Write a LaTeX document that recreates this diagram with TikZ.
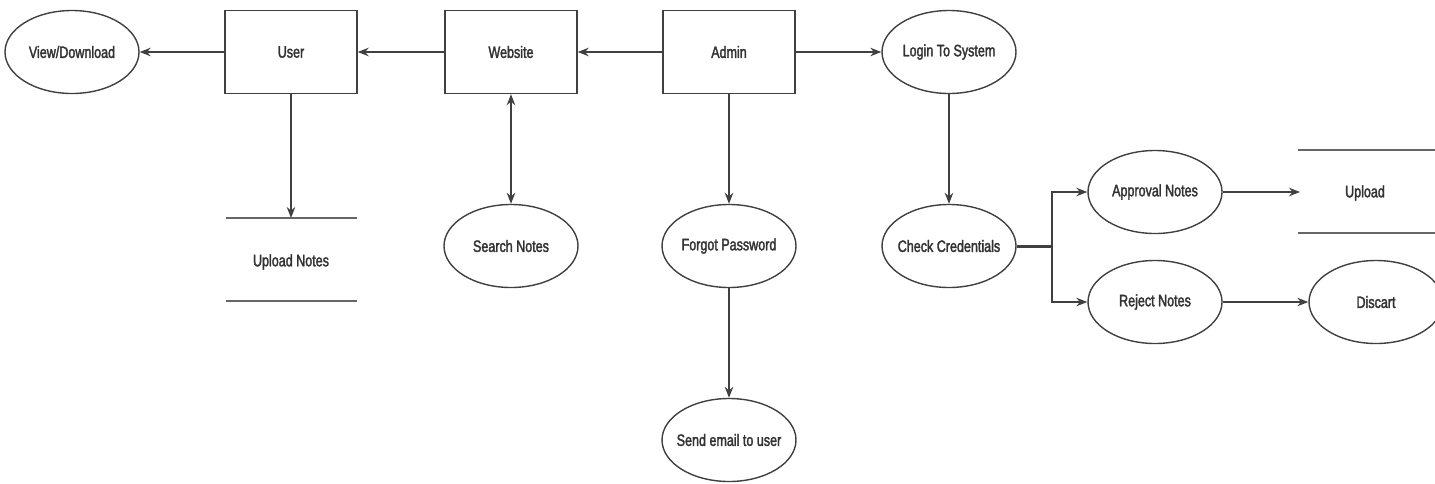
\documentclass[tikz,border=0pt]{standalone}
\usepackage{fontspec}
\setmainfont{Liberation Sans}[FakeStretch=0.76,FakeBold=2]
\usetikzlibrary{arrows.meta,shapes.geometric}
\begin{document}
\begin{tikzpicture}[x=1pt,y=-1pt,
  every node/.style={font=\fontsize{16.5}{19}\selectfont, text=black!80},
  line/.style={draw=black!75, line width=1.4pt},
  proc/.style={line, rectangle, minimum width=132pt, minimum height=83pt, inner sep=0pt},
  oval/.style={line, ellipse, minimum width=134pt, minimum height=83pt, inner xsep=-20pt, inner ysep=0pt},
  store/.style={draw=black!60, line width=1.7pt},
  tip/.tip={Stealth[length=11pt,width=8.5pt]},
  flow/.style={line, -tip},
  bothflow/.style={line, tip-tip}]
\useasboundingbox (0,0) rectangle (1435,483);
\clip (0,0) rectangle (1435,483);

% processes on the top row
\node[oval] (view) at (72,52) {View/Download};
\node[proc] (user) at (291,52) {User};
\node[proc] (web) at (511,52) {Website};
\node[proc] (admin) at (729,52) {Admin};
\node[oval] (login) at (949,52) {Login To System};

% second row
\node[oval] (search) at (511,246) {Search Notes};
\node[oval] (forgot) at (729,246) {Forgot Password};
\node[oval] (check) at (949,246) {Check Credentials};
\node[oval] (approve) at (1155,192) {Approval Notes};
\node[oval] (reject) at (1155,302) {Reject Notes};
\node[oval] (discart) at (1376,302) {Discart};
\node[oval] (mail) at (729,440) {Send email to user};

% data stores
\node (upnotes) at (291,262) {Upload Notes};
\coordinate (upnotesTop) at (291,218);
\draw[store] (226,218) -- (357,218);
\draw[store] (226,301) -- (357,301);

\node (upload) at (1365,193) {Upload};
\coordinate (uploadIn) at (1300,192);
\draw[store] (1298,150) -- (1435,150);
\draw[store] (1298,233) -- (1435,233);

% connectors
\draw[flow] (user) -- (view);
\draw[flow] (web) -- (user);
\draw[flow] (admin) -- (web);
\draw[flow] (admin) -- (login);
\draw[flow] (user.south) -- (upnotesTop);
\draw[bothflow] (web) -- (search);
\draw[flow] (admin) -- (forgot);
\draw[flow] (login) -- (check);
\draw[flow] (forgot) -- (mail);
\draw[flow] (check.east) ++(0,-0.8) -- (1052,245.2) |- (approve.west);
\draw[flow] (check.east) ++(0,0.8) -- (1052,246.8) |- (reject.west);
\draw[flow] (approve) -- (uploadIn);
\draw[flow] (reject) -- (discart);
\end{tikzpicture}
\end{document}
